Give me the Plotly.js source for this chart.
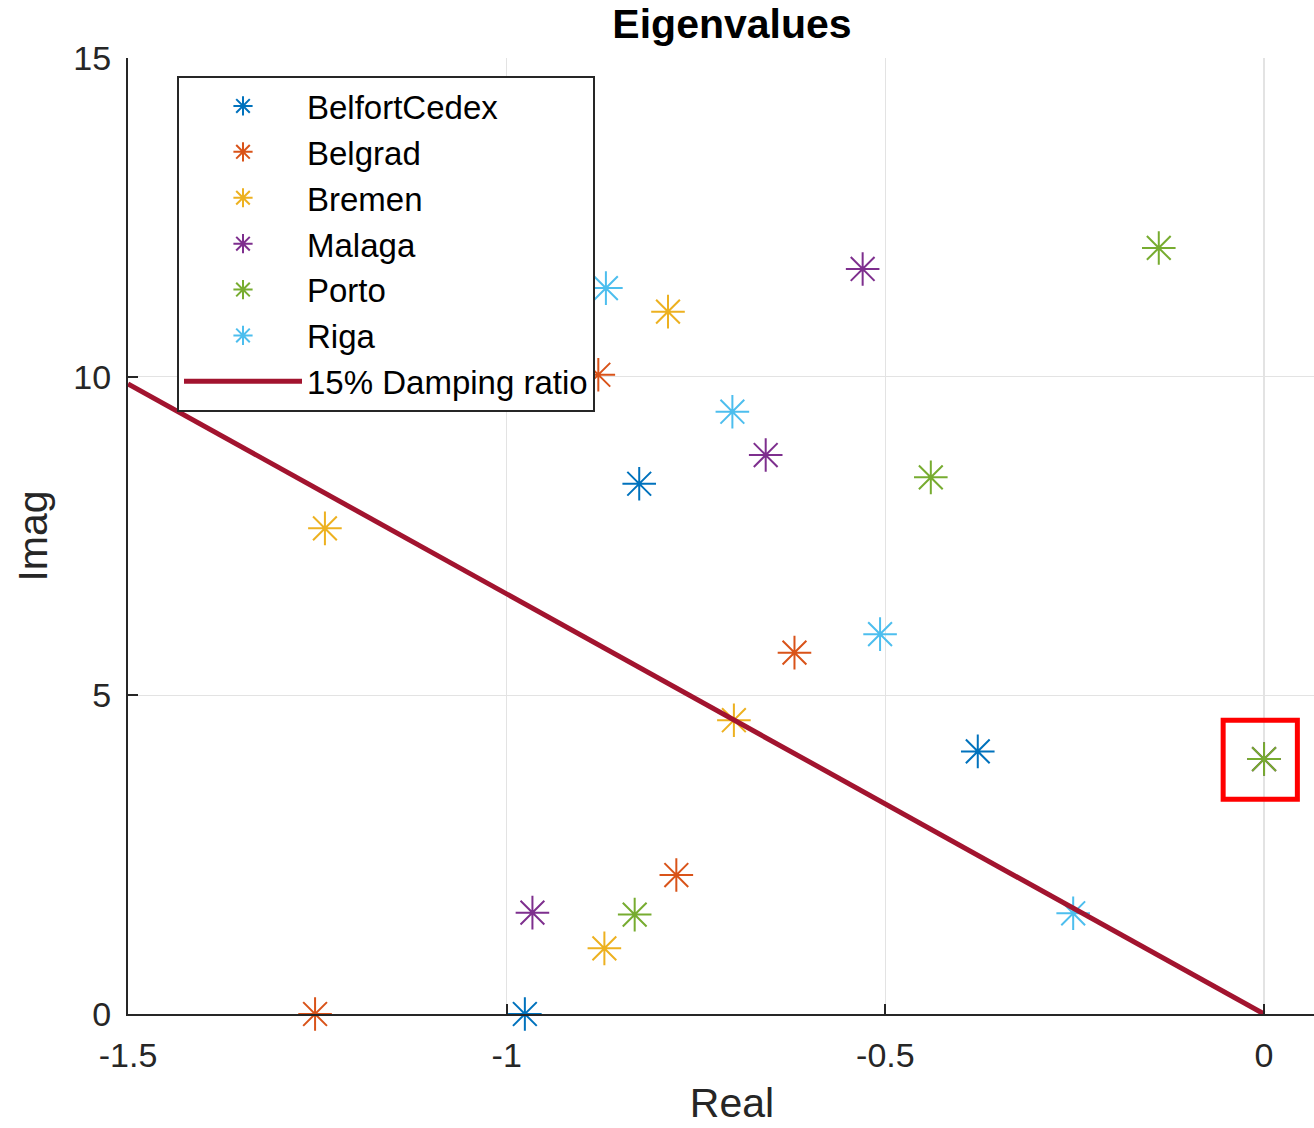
<!DOCTYPE html>
<html>
<head>
<meta charset="utf-8">
<script src="https://cdn.plot.ly/plotly-3.0.1.min.js"></script>
<style>html,body{margin:0;padding:0;background:#fff;overflow:hidden;}#chart{width:1336px;height:1128px;}</style>
</head>
<body>
<div id="chart"></div>
<script>
// Eigenvalues (real part, imaginary part) per grid
const seriesNames = ["BelfortCedex", "Belgrad", "Bremen", "Malaga", "Porto", "Riga"];
const belfortReal = [-0.825, -0.378, -0.976];
const belfortImag = [8.32, 4.12, 0.0];
const belgradReal = [-0.879, -0.620, -0.776, -1.253];
const belgradImag = [10.03, 5.67, 2.18, 0.0];
const bremenReal = [-0.787, -1.240, -0.700, -0.871];
const bremenImag = [11.02, 7.62, 4.61, 1.03];
const malagaReal = [-0.530, -0.658, -0.966, 0.0];
const malagaImag = [11.69, 8.77, 1.59, 4.0];
const portoReal = [-0.139, -0.440, -0.831, 0.0];
const portoImag = [12.02, 8.42, 1.56, 4.0];
const rigaReal = [-0.869, -0.702, -0.507, -0.252];
const rigaImag = [11.39, 9.45, 5.96, 1.58];
const seriesColors = ["#0072BD", "#D95319", "#EDB120", "#7E2F8E", "#77AC30", "#4DBEEE"];

// 15% damping ratio line
const dampingName = "15% Damping ratio";
const dampingReal = [0, -1.5];
const dampingImag = [0, 9.887];

// Highlight box around the common eigenvalue
const boxReal = [-0.054, 0.044];
const boxImag = [3.37, 4.61];

// Axis ticks
const xTickVals = [-1.5, -1, -0.5, 0];
const xTickText = ["-1.5", "-1", "-0.5", "0"];
const yTickVals = [0, 5, 10, 15];
const yTickText = ["0", "5", "10", "15"];

const reals = [belfortReal, belgradReal, bremenReal, malagaReal, portoReal, rigaReal];
const imags = [belfortImag, belgradImag, bremenImag, malagaImag, portoImag, rigaImag];

const FONT = "Liberation Sans, Arial, Helvetica, sans-serif";
const traces = seriesNames.map((n, i) => ({
  type: "scatter",
  mode: "markers",
  name: n,
  x: reals[i],
  y: imags[i],
  cliponaxis: false,
  marker: {symbol: "asterisk-open", size: 28, color: seriesColors[i], line: {color: seriesColors[i], width: 2}}
}));
traces.push({
  type: "scatter",
  mode: "lines",
  name: dampingName,
  x: dampingReal,
  y: dampingImag,
  line: {color: "#A2142F", width: 5}
});

const axisCommon = {
  showline: true,
  linecolor: "#262626",
  linewidth: 2,
  ticks: "inside",
  ticklen: 10,
  tickwidth: 2,
  tickcolor: "#262626",
  showgrid: true,
  gridcolor: "#e3e3e3",
  gridwidth: 1.5,
  zeroline: false,
  tickfont: {family: FONT, size: 34, color: "#262626"}
};

// Axes area runs past the right edge of the 1314px window (cropped figure)
const FIG_W = 1336;
const plotLeft = 128, plotTop = 58, plotBottom = 1014;
const plotW = FIG_W - plotLeft, plotH = plotBottom - plotTop;

const layout = {
  width: FIG_W,
  height: 1128,
  margin: {l: plotLeft, r: 0, t: plotTop, b: 1128 - plotBottom},
  paper_bgcolor: "#ffffff",
  plot_bgcolor: "#ffffff",
  showlegend: true,
  title: {
    text: "<b>Eigenvalues</b>",
    font: {family: FONT, size: 41, color: "#000000"},
    xref: "paper", x: 0.5, xanchor: "center",
    yref: "container", y: 1 - 24 / 1128, yanchor: "middle"
  },
  xaxis: Object.assign({}, axisCommon, {
    range: [-1.5, 0.095],
    tickvals: xTickVals,
    ticktext: xTickText,
    ticklabelstandoff: 10,
    title: {text: "Real", font: {family: FONT, size: 41, color: "#262626"}, standoff: 16}
  }),
  yaxis: Object.assign({}, axisCommon, {
    range: [0, 15],
    tickvals: yTickVals,
    ticktext: yTickText,
    ticklabelstandoff: 8,
    title: {text: "Imag", font: {family: FONT, size: 41, color: "#262626"}, standoff: 13}
  }),
  legend: {
    x: (177 - plotLeft) / plotW,
    y: (plotBottom - 76) / plotH,
    xanchor: "left",
    yanchor: "top",
    bgcolor: "#ffffff",
    bordercolor: "#262626",
    borderwidth: 2,
    itemwidth: 118,
    entrywidth: 300,
    entrywidthmode: "pixels",
    font: {family: FONT, size: 33, color: "#000000"}
  },
  shapes: [{
    type: "rect",
    xref: "x", yref: "y",
    x0: boxReal[0], x1: boxReal[1],
    y0: boxImag[0], y1: boxImag[1],
    line: {color: "#FF0000", width: 5},
    layer: "above"
  }]
};

Plotly.newPlot("chart", traces, layout, {displayModeBar: false, staticPlot: true});
</script>
</body>
</html>
